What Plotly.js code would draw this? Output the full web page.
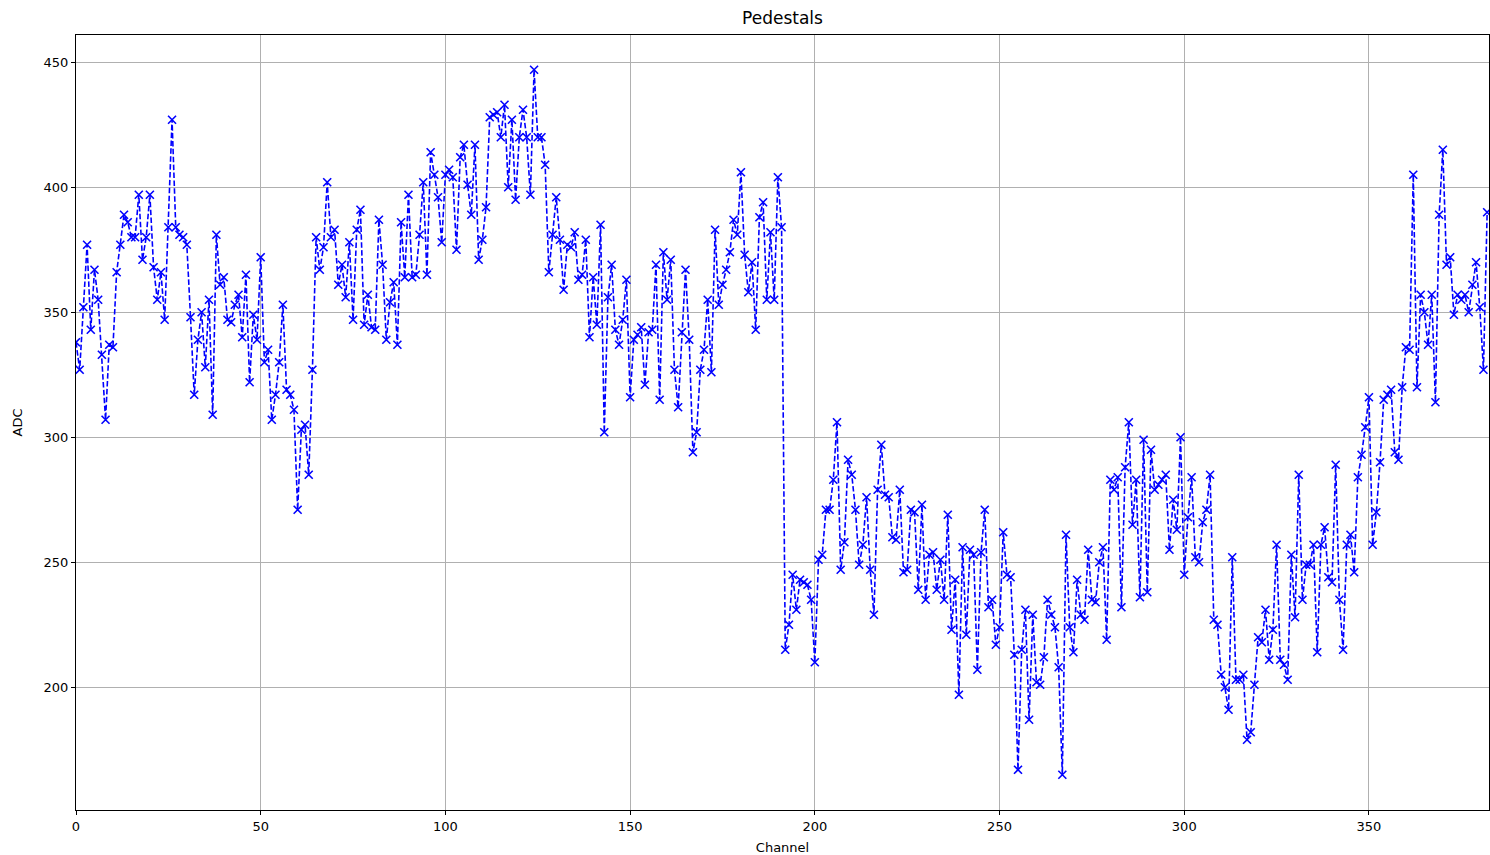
<!DOCTYPE html>
<html>
<head>
<meta charset="utf-8">
<script src="https://cdn.plot.ly/plotly-3.0.1.min.js"></script>
<style>
html, body { margin: 0; padding: 0; background: #ffffff; }
#chart { width: 1490px; height: 855px; }
</style>
</head>
<body>
<div id="chart"></div>
<script>
// ADC pedestal value per channel (channels 0..382)
const adc = [
  338, 327, 352, 377, 343, 367, 355, 333, 307, 337,
  336, 366, 377, 389, 386, 380, 380, 397, 371, 380,
  397, 368, 355, 366, 347, 384, 427, 384, 381, 380,
  377, 348, 317, 339, 350, 328, 355, 309, 381, 361,
  364, 347, 346, 353, 357, 340, 365, 322, 349, 339,
  372, 330, 335, 307, 317, 330, 353, 319, 317, 311,
  271, 303, 305, 285, 327, 380, 367, 376, 402, 380,
  383, 361, 369, 356, 378, 347, 383, 391, 345, 357,
  344, 343, 387, 369, 339, 354, 362, 337, 386, 364,
  397, 364, 365, 381, 402, 365, 414, 405, 396, 378,
  405, 407, 404, 375, 412, 417, 401, 389, 417, 371,
  379, 392, 428, 429, 430, 420, 433, 400, 427, 395,
  420, 431, 420, 397, 447, 420, 420, 409, 366, 381,
  396, 379, 359, 377, 376, 382, 363, 365, 379, 340,
  364, 345, 385, 302, 356, 369, 343, 337, 347, 363,
  316, 339, 341, 344, 321, 342, 343, 369, 315, 374,
  355, 371, 327, 312, 342, 367, 339, 294, 302, 327,
  335, 355, 326, 383, 353, 361, 367, 374, 387, 381,
  406, 373, 358, 370, 343, 388, 394, 355, 382, 355,
  404, 384, 215, 225, 245, 231, 243, 242, 241, 235,
  210, 251, 253, 271, 271, 283, 306, 247, 258, 291,
  285, 271, 249, 257, 276, 247, 229, 279, 297, 277,
  276, 260, 259, 279, 246, 247, 271, 270, 239, 273,
  235, 253, 254, 239, 251, 235, 269, 223, 243, 197,
  256, 221, 255, 253, 207, 254, 271, 232, 235, 217,
  224, 262, 245, 244, 213, 167, 215, 231, 187, 229,
  202, 201, 212, 235, 229, 224, 208, 165, 261, 224,
  214, 243, 229, 227, 255, 235, 234, 250, 256, 219,
  283, 279, 284, 232, 288, 306, 265, 283, 236, 299,
  238, 295, 279, 281, 283, 285, 255, 275, 263, 300,
  245, 268, 284, 252, 250, 266, 271, 285, 227, 225,
  205, 200, 191, 252, 203, 203, 205, 179, 182, 201,
  220, 218, 231, 211, 223, 257, 211, 209, 203, 253,
  228, 285, 235, 249, 249, 257, 214, 257, 264, 244,
  242, 289, 235, 215, 257, 261, 246, 284, 293, 304,
  316, 257, 270, 290, 315, 317, 319, 294, 291, 320,
  336, 335, 405, 320, 357, 350, 337, 357, 314, 389,
  415, 369, 372, 349, 357, 355, 357, 350, 361, 370,
  352, 327, 390
];
const channels = adc.map((v, i) => i);
const xTicks = [0, 50, 100, 150, 200, 250, 300, 350];
const yTicks = [200, 250, 300, 350, 400, 450];
const titleText = 'Pedestals';
const xLabel = 'Channel';
const yLabel = 'ADC';

const font = 'DejaVu Sans, sans-serif';

const trace = {
  x: channels,
  y: adc,
  type: 'scatter',
  mode: 'lines+markers',
  line: { color: '#0000ff', width: 1.6, dash: '5.5px,2.4px' },
  marker: { symbol: 'x-thin', size: 8, line: { color: '#0000ff', width: 1.6 }, color: '#0000ff' },
  hoverinfo: 'skip'
};

const axisCommon = {
  showline: true,
  mirror: true,
  linecolor: '#000000',
  linewidth: 1,
  showgrid: true,
  gridcolor: '#b0b0b0',
  gridwidth: 1,
  zeroline: false,
  ticks: 'outside',
  ticklen: 4,
  tickwidth: 1,
  tickcolor: '#000000',
  tickfont: { family: font, size: 13, color: '#000000' },
  automargin: false
};

const layout = {
  width: 1490,
  height: 855,
  margin: { l: 76, r: 1, t: 35, b: 45 },
  paper_bgcolor: '#ffffff',
  plot_bgcolor: '#ffffff',
  showlegend: false,
  title: {
    text: titleText,
    font: { family: font, size: 17, color: '#000000' },
    x: 0.5, xref: 'paper', xanchor: 'center',
    y: 1 - 18 / 855, yref: 'container', yanchor: 'middle'
  },
  xaxis: Object.assign({}, axisCommon, {
    range: [0, 382.5],
    tickmode: 'array',
    tickvals: xTicks,
    ticktext: xTicks.map(String),
    title: { text: xLabel, font: { family: font, size: 13, color: '#000000' }, standoff: 10 }
  }),
  yaxis: Object.assign({}, axisCommon, {
    range: [150.9, 460.9],
    tickmode: 'array',
    tickvals: yTicks,
    ticktext: yTicks.map(String),
    title: { text: yLabel, font: { family: font, size: 13, color: '#000000' }, standoff: 18 }
  })
};

Plotly.newPlot('chart', [trace], layout, { displayModeBar: false, staticPlot: true });
</script>
</body>
</html>
